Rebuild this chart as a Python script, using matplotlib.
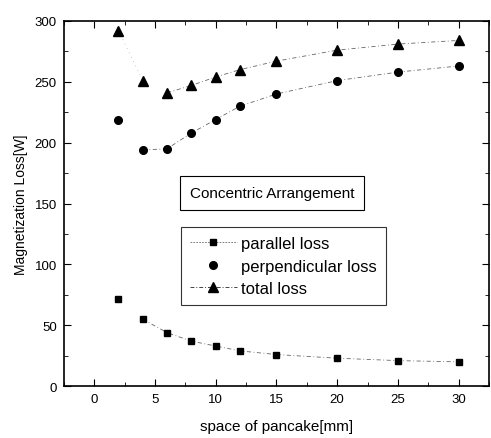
import matplotlib
matplotlib.use("Agg")
import matplotlib.pyplot as plt
from matplotlib.ticker import MultipleLocator
from matplotlib.lines import Line2D

plt.rcParams['font.family'] = ['Liberation Sans', 'DejaVu Sans']

# 데이터
space = [2, 4, 6, 8, 10, 12, 15, 20, 25, 30]
parallel_loss = [72, 55, 44, 37, 33, 29, 26, 23, 21, 20]
perpendicular_loss = [219, 194, 195, 208, 219, 230, 240, 251, 258, 263]
total_loss = [292, 251, 241, 247, 254, 260, 267, 276, 281, 284]

fig = plt.figure(figsize=(4.91, 4.39), dpi=100)
ax = fig.add_axes([0.130, 0.118, 0.866, 0.832])

line_kw = dict(color='#666666', linestyle=(0, (5, 3, 1, 3)), linewidth=0.6)
ax.plot(space[1:], parallel_loss[1:], **line_kw)
ax.plot(space[1:], perpendicular_loss[1:], **line_kw)
ax.plot(space[:2], total_loss[:2], color='#999999', linestyle=(0, (1, 6)), linewidth=0.5)
ax.plot(space[2:], total_loss[2:], **line_kw)

ax.plot(space, parallel_loss, 's', color='black', markersize=5)
ax.plot(space, perpendicular_loss, 'o', color='black', markersize=5.5)
ax.plot(space, total_loss, '^', color='black', markersize=6.5)

ax.set_xlim(-2.5, 32.5)
ax.set_ylim(0, 300)
ax.xaxis.set_major_locator(MultipleLocator(5))
ax.xaxis.set_minor_locator(MultipleLocator(2.5))
ax.yaxis.set_major_locator(MultipleLocator(50))
ax.yaxis.set_minor_locator(MultipleLocator(25))
ax.tick_params(which='both', direction='in', top=True, right=True, labelsize=9.5)
ax.tick_params(which='major', length=5, pad=5)
ax.tick_params(which='minor', length=3)
for s in ax.spines.values():
    s.set_linewidth(1.2)

ax.set_xlabel('space of pancake[mm]', fontsize=11, labelpad=10)
ax.set_ylabel('Magnetization Loss[W]', fontsize=10, labelpad=5)

# 범례
handles = [
    Line2D([], [], marker='s', color='#666666', markerfacecolor='black', markeredgecolor='black',
           markersize=5, linestyle=(0, (2, 1.5)), linewidth=0.6),
    Line2D([], [], marker='o', color='black', markersize=5.5, linestyle='none'),
    Line2D([], [], marker='^', color='#444444', markerfacecolor='black', markeredgecolor='black',
           markersize=6.5, linestyle=(0, (4, 2, 1, 2)), linewidth=0.7),
]
leg = ax.legend(handles, ['parallel loss', 'perpendicular loss', 'total loss'],
                loc='upper left', bbox_to_anchor=(0.275, 0.436), fontsize=12,
                frameon=True, fancybox=False, edgecolor='black', handlelength=2.8,
                handletextpad=0.25, borderpad=0.55, labelspacing=0.45, borderaxespad=0)
leg.get_frame().set_linewidth(0.8)

ax.text(0.489, 0.530, 'Concentric Arrangement', transform=ax.transAxes, fontsize=11,
        ha='center', va='center',
        bbox=dict(boxstyle='square,pad=0.65', facecolor='white', edgecolor='black', linewidth=0.8))

fig.savefig('out.png', dpi=100)
